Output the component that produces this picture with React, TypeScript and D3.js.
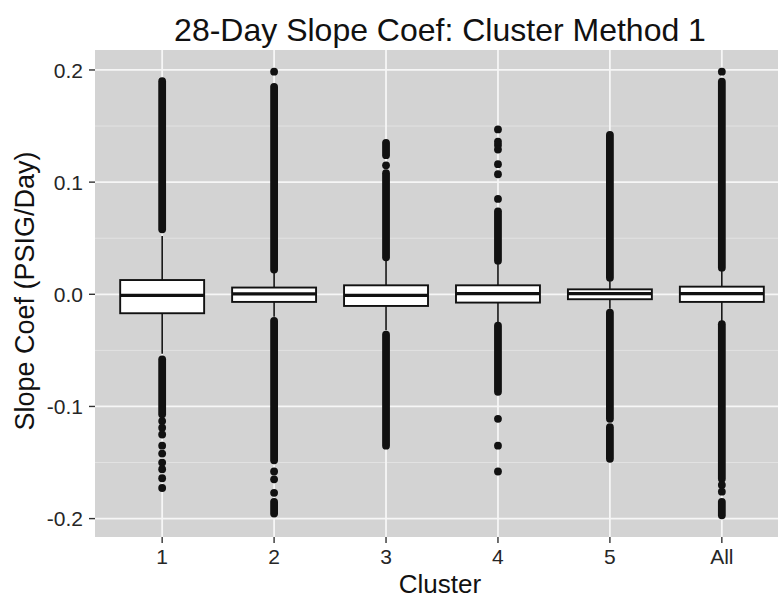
import React from "react";
import * as d3 from "d3";

const categories = ["1", "2", "3", "4", "5", "All"];
const q1 = [-0.0169, -0.0068, -0.0104, -0.0074, -0.0044, -0.0068];
const medians = [-0.001, 0.0003, -0.001, 0.0006, 0.0006, 0.0006];
const q3 = [0.0127, 0.006, 0.008, 0.008, 0.0044, 0.0068];
const whiskerLow = [-0.053, -0.02, -0.032, -0.025, -0.013, -0.024];
const whiskerHigh = [0.052, 0.019, 0.03, 0.027, 0.012, 0.021];

// dense outlier runs (overlapping dots), [low, high]
const outlierRuns: [number, number][][] = [
  [[0.058, 0.19], [-0.107, -0.058]],
  [[0.022, 0.185], [-0.148, -0.0237], [-0.1955, -0.185]],
  [[0.033, 0.108], [0.124, 0.135], [-0.135, -0.036]],
  [[0.03, 0.074], [-0.087, -0.028]],
  [[0.0148, 0.142], [-0.111, -0.0163], [-0.1467, -0.1185]],
  [[0.0237, 0.1896], [-0.1644, -0.0267], [-0.197, -0.185]],
];
// isolated outliers
const outlierPoints: number[][] = [
  [-0.113, -0.119, -0.125, -0.135, -0.142, -0.15, -0.156, -0.164, -0.1727],
  [0.1985, -0.158, -0.165, -0.177],
  [0.115],
  [0.085, 0.107, 0.116, 0.129, 0.133, 0.136, 0.147, -0.111, -0.135, -0.158],
  [],
  [0.1985, -0.17, -0.176],
];

const yMajor = [0.2, 0.1, 0.0, -0.1, -0.2];
const yMinor = [0.15, 0.05, -0.05, -0.15];
const yTickLabels = ["0.2", "0.1", "0.0", "-0.1", "-0.2"];

const W = 778;
const H = 604;
const panel = { left: 95, right: 789, top: 50, bottom: 537 };

export default function App() {
  const x = d3
    .scalePoint<string>()
    .domain(categories)
    .range([panel.left, panel.right])
    .padding(0.6);
  const y = d3
    .scaleLinear()
    .domain([-0.2164, 0.2178])
    .range([panel.bottom, panel.top]);
  const step = x.step();
  const boxW = step * 0.75;
  const font = "'Liberation Sans', Arial, Helvetica, sans-serif";
  const dotR = 3.9;

  return (
    <div style={{ position: "absolute", left: 0, top: 0, width: W, height: H, background: "#fff" }}>
      <svg width={W} height={H} style={{ display: "block" }}>
        <rect x={0} y={0} width={W} height={H} fill="#fff" />
        <rect
          x={panel.left}
          y={panel.top}
          width={panel.right - panel.left}
          height={panel.bottom - panel.top}
          fill="#d3d3d3"
        />
        {yMinor.map((v) => (
          <line key={"mn" + v} x1={panel.left} x2={panel.right} y1={y(v)} y2={y(v)} stroke="#e4e4e4" strokeWidth={0.9} />
        ))}
        {yMajor.map((v) => (
          <line key={"mj" + v} x1={panel.left} x2={panel.right} y1={y(v)} y2={y(v)} stroke="#f6f6f6" strokeWidth={1.8} />
        ))}
        {categories.map((c) => (
          <line key={"vg" + c} x1={x(c)} x2={x(c)} y1={panel.top} y2={panel.bottom} stroke="#f6f6f6" strokeWidth={1.8} />
        ))}

        {categories.map((c, i) => {
          const cx = x(c)!;
          return (
            <g key={"box" + c}>
              <line x1={cx} x2={cx} y1={y(q3[i])} y2={y(whiskerHigh[i])} stroke="#111" strokeWidth={1.6} />
              <line x1={cx} x2={cx} y1={y(q1[i])} y2={y(whiskerLow[i])} stroke="#111" strokeWidth={1.6} />
              {outlierRuns[i].map((r, k) => (
                <line
                  key={"r" + k}
                  x1={cx}
                  x2={cx}
                  y1={y(r[0])}
                  y2={y(r[1])}
                  stroke="#111"
                  strokeWidth={dotR * 2}
                  strokeLinecap="round"
                />
              ))}
              {outlierPoints[i].map((v, k) => (
                <circle key={"p" + k} cx={cx} cy={y(v)} r={dotR} fill="#111" />
              ))}
              <rect
                x={cx - boxW / 2}
                y={y(q3[i])}
                width={boxW}
                height={y(q1[i]) - y(q3[i])}
                fill="#fff"
                stroke="#111"
                strokeWidth={1.9}
              />
              <line x1={cx - boxW / 2} x2={cx + boxW / 2} y1={y(medians[i])} y2={y(medians[i])} stroke="#111" strokeWidth={3.2} />
            </g>
          );
        })}

        {yMajor.map((v, i) => (
          <g key={"yt" + v}>
            <line x1={panel.left - 6} x2={panel.left} y1={y(v)} y2={y(v)} stroke="#333" strokeWidth={1.4} />
            <text
              x={panel.left - 12}
              y={y(v)}
              dy="0.36em"
              textAnchor="end"
              fontFamily={font}
              fontSize={21}
              fill="#262626"
            >
              {yTickLabels[i]}
            </text>
          </g>
        ))}
        {categories.map((c) => (
          <g key={"xt" + c}>
            <line x1={x(c)} x2={x(c)} y1={panel.bottom} y2={panel.bottom + 6} stroke="#333" strokeWidth={1.4} />
            <text x={x(c)} y={panel.bottom + 27} textAnchor="middle" fontFamily={font} fontSize={21} fill="#262626">
              {c}
            </text>
          </g>
        ))}

        <text x={440} y={593} textAnchor="middle" fontFamily={font} fontSize={26} fill="#111">
          Cluster
        </text>
        <text
          transform={`translate(34, 291) rotate(-90)`}
          textAnchor="middle"
          fontFamily={font}
          fontSize={27}
          fill="#111"
        >
          Slope Coef (PSIG/Day)
        </text>
        <text x={440} y={41} textAnchor="middle" fontFamily={font} fontSize={32} fill="#111">
          28-Day Slope Coef: Cluster Method 1
        </text>
      </svg>
    </div>
  );
}
